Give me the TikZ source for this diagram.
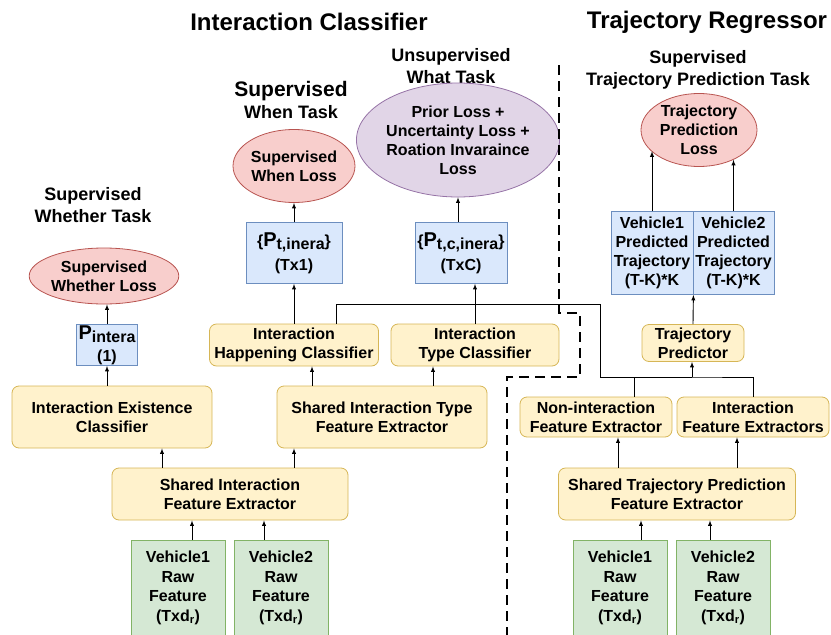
\documentclass[tikz,border=0pt]{standalone}
\usepackage{fontspec}
\setmainfont{Liberation Sans}
\usetikzlibrary{shapes.geometric}

\definecolor{modfill}{HTML}{FFF2CC}
\definecolor{moddraw}{HTML}{D6B656}
\definecolor{outfill}{HTML}{DAE8FC}
\definecolor{outdraw}{HTML}{6C8EBF}
\definecolor{rawfill}{HTML}{D5E8D4}
\definecolor{rawdraw}{HTML}{82B366}
\definecolor{lossfill}{HTML}{F8CECC}
\definecolor{lossdraw}{HTML}{B85450}
\definecolor{priorfill}{HTML}{E1D5E7}
\definecolor{priordraw}{HTML}{9673A6}

\begin{document}
\begin{tikzpicture}[x=1pt,y=-1pt]

			\tikzstyle{module}=[fill=modfill,draw=moddraw,line width=0.8pt,
				rounded corners=7pt,inner sep=0pt,align=center,
				font=\fontsize{16}{19}\selectfont\bfseries]
			\tikzstyle{output}=[fill=outfill,draw=outdraw,line width=0.8pt,
				inner sep=0pt,align=center,
				font=\fontsize{16}{19}\selectfont\bfseries]
			\tikzstyle{rawfeat}=[fill=rawfill,draw=rawdraw,line width=0.8pt,
				minimum width=94pt,minimum height=96pt,
				node distance=103pt,inner sep=0pt,align=center,
				font=\fontsize{16}{19.5}\selectfont\bfseries]
			\tikzstyle{loss}=[ellipse,fill=lossfill,draw=lossdraw,line width=0.8pt,
				inner sep=0pt,align=center,
				font=\fontsize{16}{19}\selectfont\bfseries]
			\tikzstyle{heading}=[font=\fontsize{24}{29}\selectfont\bfseries]
			\tikzstyle{task}=[align=center,font=\fontsize{18}{22}\selectfont\bfseries]
			\tikzstyle{link}=[-latex,line width=0.9pt]

			\useasboundingbox (0,0) rectangle (831,635);

			\node[heading]	(ic)	at (309,22)	{Interaction Classifier};
			\node[heading]	(tr)	at (707,22)	{Trajectory Regressor};

			% interaction classifier
			\node[task]	(whethert)	at (93,205)	{Supervised\\Whether Task};
			\node[task]	(whent)	at (291,100)	{{\fontsize{21}{25}\selectfont Supervised}\\When Task};
			\node[task]	(whatt)	at (451,66)	{Unsupervised\\What Task};

			\node[rawfeat]	(v1l)	at (178,588)	{Vehicle1\\Raw\\Feature\\(Txd\textsubscript{r})};
			\node[rawfeat,right of=v1l]	(v2l)	{Vehicle2\\Raw\\Feature\\(Txd\textsubscript{r})};
			\node[module,minimum width=236pt,minimum height=52pt]	(sif)	at (230,494)
				{Shared Interaction\\Feature Extractor};
			\node[module,minimum width=200pt,minimum height=62pt]	(iec)	at (112,417)
				{Interaction Existence\\Classifier};
			\node[module,minimum width=210pt,minimum height=62pt]	(sitf)	at (382,417)
				{Shared Interaction Type\\Feature Extractor};
			\node[module,minimum width=169pt,minimum height=42pt]	(ihc)	at (294,345)
				{Interaction\\Happening Classifier};
			\node[module,minimum width=168pt,minimum height=42pt,
				node distance=181pt,right of=ihc]	(itc)
				{Interaction\\Type Classifier};
			\node[output,minimum width=61pt,minimum height=41pt]	(pint)	at (107,345)
				{{\fontsize{20}{20}\selectfont P}\raisebox{-3pt}{intera}\\[3pt](1)};
			\node[output,minimum width=96pt,minimum height=61pt]	(ptx1)	at (294,253)
				{\{{\fontsize{20}{20}\selectfont P}\raisebox{-3pt}{t,inera}\}\\[5pt](Tx1)};
			\node[output,minimum width=92pt,minimum height=61pt]	(ptxc)	at (461,253)
				{\{{\fontsize{20}{20}\selectfont P}\raisebox{-3pt}{t,c,inera}\}\\[5pt](TxC)};
			\node[loss,minimum width=118pt,minimum height=56pt]	(wloss)	at (104,276)
				{Supervised\\Whether Loss};
			\node[loss,minimum width=116pt,minimum height=73pt]	(whenloss)	at (294,166)
				{Supervised\\When Loss};
			\node[loss,fill=priorfill,draw=priordraw,
				minimum width=183pt,minimum height=114pt]	(whatloss)	at (458,140)
				{Prior Loss +\\Uncertainty Loss +\\Roation Invaraince\\Loss};

			% trajectory regressor
			\node[task]	(trajt)	at (698,70)	{Supervised\\Trajectory Prediction Task};

			\node[rawfeat]	(v1r)	at (620,588)	{Vehicle1\\Raw\\Feature\\(Txd\textsubscript{r})};
			\node[rawfeat,right of=v1r]	(v2r)	{Vehicle2\\Raw\\Feature\\(Txd\textsubscript{r})};
			\node[module,minimum width=237pt,minimum height=52pt]	(stpf)	at (677,494)
				{Shared Trajectory Prediction\\Feature Extractor};
			\node[module,minimum width=152pt,minimum height=40pt]	(nife)	at (596,417)
				{Non-interaction\\Feature Extractor};
			\node[module,minimum width=152pt,minimum height=40pt,
				node distance=157pt,right of=nife]	(ife)
				{Interaction\\Feature Extractors};
			\node[module,minimum width=102pt,minimum height=37pt]	(tpred)	at (693,343)
				{Trajectory\\Predictor};
			\node[output,minimum width=82pt,minimum height=83pt]	(p1)	at (652,253)
				{Vehicle1\\Predicted\\Trajectory\\(T-K)*K};
			\node[output,minimum width=81pt,minimum height=83pt,
				node distance=81.5pt,right of=p1]	(p2)
				{Vehicle2\\Predicted\\Trajectory\\(T-K)*K};
			\node[loss,minimum width=116pt,minimum height=73pt]	(tploss)	at (699,130)
				{Trajectory\\Prediction\\Loss};

			\coordinate	(bend)	at (600,304);
			\coordinate	(merge)	at (692,377);

			\draw[link]	([xshift=14pt]v1l.north)	--	([xshift=14pt]v1l.north |- sif.south);
			\draw[link]	([xshift=-17pt]v2l.north)	--	([xshift=-17pt]v2l.north |- sif.south);
			\draw[link]	([xshift=-68pt]sif.north)	--	([xshift=-68pt]sif.north |- iec.south);
			\draw[link]	([xshift=64pt]sif.north)	--	([xshift=64pt]sif.north |- sitf.south);
			\draw[link]	(iec.north -| pint.south)	--	(pint.south);
			\draw[link]	(pint.north)	--	(pint.north |- wloss.south);
			\draw[link]	([xshift=18pt]ihc.south |- sitf.north)	--	([xshift=18pt]ihc.south);
			\draw[link]	([xshift=-42pt]itc.south |- sitf.north)	--	([xshift=-42pt]itc.south);
			\draw[link]	(ihc)	--	(ptx1);
			\draw[link]	(itc.north)	--	(itc.north |- ptxc.south);
			\draw[link]	(ptx1)	--	(whenloss);
			\draw[link]	(whatloss.south |- ptxc.north)	--	(whatloss.south);

			\draw[link]	([xshift=21pt]v1r.north)	--	([xshift=21pt]v1r.north |- stpf.south);
			\draw[link]	([xshift=-13pt]v2r.north)	--	([xshift=-13pt]v2r.north |- stpf.south);
			\draw[link]	([xshift=22pt]nife.south |- stpf.north)	--	([xshift=22pt]nife.south);
			\draw[link]	([xshift=-16pt]ife.south |- stpf.north)	--	([xshift=-16pt]ife.south);
			\draw[line width=0.9pt]	([xshift=42pt]ihc.north)	|-	(bend)	|-	(merge);
			\draw[line width=0.9pt]	([xshift=38pt]nife.north)	|-	(merge)	-|	(ife.north);
			\draw[link]	(merge)	--	(merge |- tpred.south);
			\draw[link]	(tpred.north)	--	(p1.south east);
			\draw[link]	(p1.north)	--	(p1.north |- tploss.204);
			\draw[link]	(p2.north)	--	(p2.north |- tploss.319);

			\draw[line width=2.6pt,dash pattern=on 10pt off 6pt]
				(559,65) -- (559,313) -- (580,313) -- (580,377) -- (507,377) -- (507,640);

\end{tikzpicture}
\end{document}
